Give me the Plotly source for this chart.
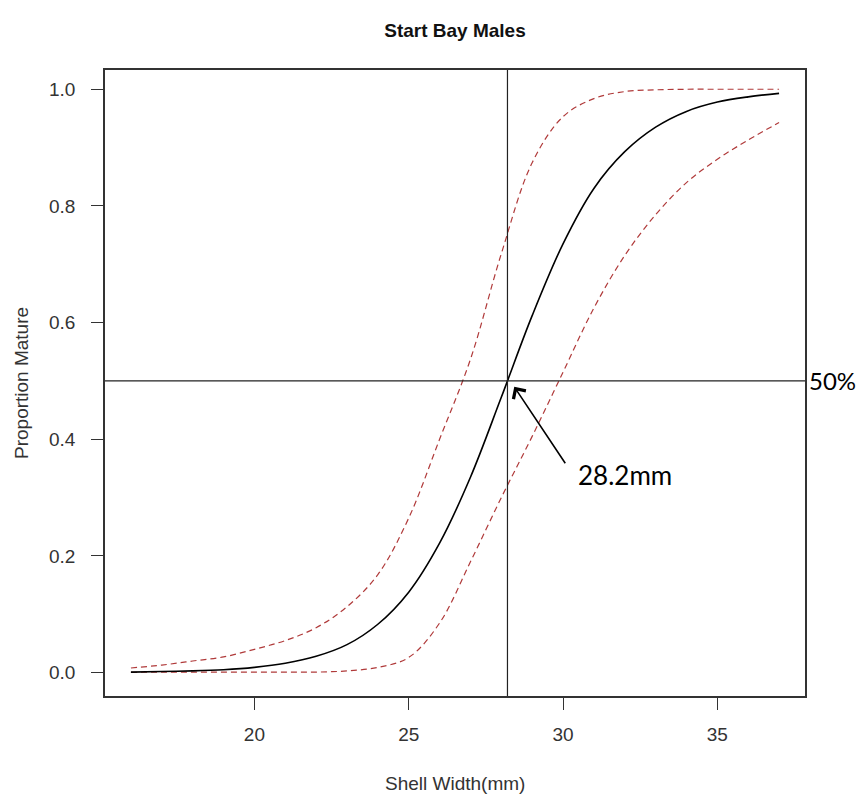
import plotly.graph_objects as go

# Data
shell_width = [16, 17, 18, 19, 20, 21, 22, 23, 24, 25, 26, 27, 28, 29, 30, 31, 32, 33, 34, 35, 36, 37]
prop_mature = [0.001, 0.002, 0.003, 0.005, 0.009, 0.016, 0.028, 0.048, 0.083, 0.138, 0.222, 0.335,
               0.472, 0.612, 0.735, 0.830, 0.893, 0.935, 0.962, 0.978, 0.987, 0.993]
upper_ci = [0.008, 0.013, 0.020, 0.027, 0.040, 0.055, 0.077, 0.113, 0.168, 0.265, 0.400, 0.537,
            0.718, 0.874, 0.953, 0.984, 0.996, 0.999, 1.0, 1.0, 1.0, 1.0]
lower_ci = [0.0005, 0.001, 0.001, 0.001, 0.001, 0.001, 0.001, 0.003, 0.009, 0.026, 0.085, 0.190,
            0.300, 0.405, 0.515, 0.625, 0.715, 0.785, 0.840, 0.880, 0.913, 0.943]
x_ticks = [20, 25, 30, 35]
y_ticks = [0.0, 0.2, 0.4, 0.6, 0.8, 1.0]
l50_width = 28.2
l50_prop = 0.5

TXT = "#333333"
FONT = "Liberation Sans, Arial, sans-serif"
RED = "#b03a3a"

fig = go.Figure()
fig.add_trace(go.Scatter(x=shell_width, y=upper_ci, mode="lines", line_shape="spline",
                         line=dict(color=RED, width=1.2, dash="6px,4px"), showlegend=False))
fig.add_trace(go.Scatter(x=shell_width, y=lower_ci, mode="lines", line_shape="spline",
                         line=dict(color=RED, width=1.2, dash="6px,4px"), showlegend=False))
fig.add_trace(go.Scatter(x=shell_width, y=prop_mature, mode="lines", line_shape="spline",
                         line=dict(color="black", width=1.6), showlegend=False))

fig.add_shape(type="line", xref="x", yref="paper", x0=l50_width, x1=l50_width, y0=0, y1=1,
              line=dict(color="#222222", width=1.2))
fig.add_shape(type="line", xref="paper", yref="y", x0=0, x1=1, y0=l50_prop, y1=l50_prop,
              line=dict(color="#222222", width=1.2))

# arrow
fig.add_annotation(x=28.42, y=0.49, xref="x", yref="y", text="", showarrow=True,
                   ax=52, ay=78, arrowhead=4, arrowsize=1.8, arrowwidth=1.6,
                   arrowcolor="black", standoff=0)
fig.add_annotation(x=30.42, y=0.338, xref="x", yref="y", text="28.2mm", showarrow=False,
                   xanchor="left", yanchor="middle",
                   font=dict(family="Lato, Carlito, sans-serif", size=26, color="black"))
fig.add_annotation(x=1.004, y=0.5, xref="paper", yref="y", text="50%", showarrow=False,
                   xanchor="left", yanchor="middle", borderpad=0,
                   font=dict(family="Lato, Carlito, sans-serif", size=24, color="black"))

# axis titles
fig.add_annotation(x=0.5, y=-0.139, xref="paper", yref="paper", text="Shell Width(mm)",
                   showarrow=False, xanchor="center", yanchor="middle",
                   font=dict(family=FONT, size=19, color=TXT))
fig.add_annotation(x=-0.12, y=0.5, xref="paper", yref="paper", text="Proportion Mature",
                   showarrow=False, textangle=-90, xanchor="center", yanchor="middle",
                   font=dict(family=FONT, size=19, color=TXT))

fig.update_layout(
    width=858, height=790,
    margin=dict(l=96.5, r=61, t=62, b=102),
    paper_bgcolor="white", plot_bgcolor="white",
    title=dict(text="<b>Start Bay Males</b>", x=0.5, xref="paper", y=1 - 22 / 790,
               yref="container", xanchor="center", yanchor="middle",
               font=dict(family=FONT, size=19, color="#111111")),
    font=dict(family=FONT, size=19, color=TXT),
)
fig.update_xaxes(range=[15.16, 37.84], tickvals=x_ticks, ticks="outside", ticklen=12,
                 tickcolor="#333333", tickwidth=1.3, showgrid=False, zeroline=False,
                 showline=True, linecolor="#333333", linewidth=1.5, mirror=True,
                 ticklabelstandoff=8, tickfont=dict(family=FONT, size=19, color=TXT))
fig.update_yaxes(range=[-0.04, 1.033], tickvals=y_ticks, tickformat=".1f", ticks="outside",
                 ticklen=12, tickcolor="#333333", tickwidth=1.3, showgrid=False, zeroline=False,
                 showline=True, linecolor="#333333", linewidth=1.5, mirror=True,
                 ticklabelstandoff=12, tickfont=dict(family=FONT, size=19, color=TXT))

fig.write_html("out.html")
